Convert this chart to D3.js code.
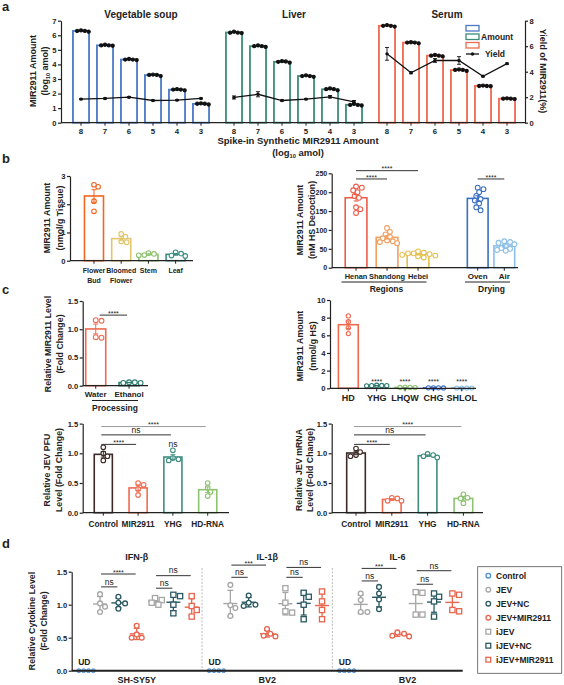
<!DOCTYPE html>
<html>
<head>
<meta charset="utf-8">
<script src="https://cdn.jsdelivr.net/npm/d3@7"></script>
<style>
  body { margin: 0; background: #fff; }
  text { font-family: "Liberation Sans", Arial, sans-serif; }
</style>
</head>
<body>
<svg id="fig" width="564" height="685"></svg>
<script>
// ---------- a: spike-in recovery ----------
const spikeLevels = ['8', '7', '6', '5', '4', '3'];
const matrices = ['Vegetable soup', 'Liver', 'Serum'];
const matrixColors = ['#4b79c6', '#3d8c7a', '#ef6a4f'];
const vegAmount = [[6.25, 6.33, 6.3, 6.3], [5.28, 5.35, 5.3, 5.3], [4.3, 4.37, 4.33, 4.33], [3.2, 3.3, 3.28, 3.28], [2.22, 2.3, 2.27, 2.27], [1.25, 1.32, 1.3, 1.3]];
const liverAmount = [[6.15, 6.25, 6.18, 6.18], [5.2, 5.3, 5.25, 5.25], [4.12, 4.22, 4.18, 4.2], [3.15, 3.25, 3.2, 3.2], [2.22, 2.35, 2.3, 2.3], [1.18, 1.3, 1.22, 1.22]];
const serumAmount = [[6.6, 6.7, 6.65, 6.65], [5.45, 5.52, 5.5, 5.5], [4.55, 4.65, 4.6, 4.6], [3.55, 3.65, 3.62, 3.62], [2.5, 2.55, 2.52, 2.52], [1.62, 1.67, 1.65, 1.65]];
const vegYield = [1.85, 1.9, 2.0, 1.74, 1.77, 1.9];
const vegYieldErr = [0.05, 0.05, 0.05, 0.04, 0.04, 0.04];
const liverYield = [1.98, 2.23, 1.74, 1.85, 2.03, 1.64];
const liverYieldErr = [0.12, 0.2, 0.05, 0.05, 0.1, 0.1];
const serumYield = [5.4, 3.92, 4.88, 4.88, 3.64, 4.63];
const serumYieldErr = [0.5, 0.08, 0.15, 0.3, 0.05, 0.05];

// ---------- b: tissues / regions / drying ----------
const tissues = ['Flower\nBud', 'Bloomed\nFlower', 'Stem', 'Leaf'];
const tissueColors = ['#f26522', '#e3c56b', '#8dc26f', '#3e8e80'];
const tissueValues = [[2.62, 2.69, 2.11, 1.75], [0.95, 0.85, 0.65, 0.68], [0.27, 0.24, 0.2, 0.19], [0.3, 0.18, 0.25, 0.17]];
const regions = ['Henan', 'Shandong', 'Hebei'];
const regionColors = ['#ec5d4a', '#f0a060', '#e3c04e'];
const regionValues = [[215, 212, 205, 200, 190, 185, 160, 155, 145], [105, 95, 88, 82, 78, 72, 70, 68, 65], [43, 40, 38, 36, 34, 32, 30, 27, 38]];
const dryings = ['Oven', 'Air'];
const dryingColors = ['#3a6fc4', '#8cbfe6'];
const dryingValues = [[212, 208, 200, 190, 182, 178, 170, 160, 152], [70, 68, 66, 62, 58, 52, 50, 47, 45]];

// ---------- c: processing / formulas / antiviral ----------
const processes = ['Water', 'Ethanol'];
const processColors = ['#ef6a4f', '#2e7d73'];
const processValues = [[1.15, 1.16, 0.85, 0.86], [0.05, 0.06, 0.05, 0.06]];
const formulas = ['HD', 'YHG', 'LHQW', 'CHG', 'SHLOL'];
const formulaColors = ['#ef6a4f', '#2e7d73', '#8dc26f', '#3a6fc4', '#8cbfe6'];
const formulaValues = [[8.2, 7.55, 6.85, 6.2], [0.35, 0.3, 0.28, 0.3, 0.32], [0.1, 0.08, 0.1, 0.09], [0.05, 0.04, 0.05, 0.05], [0.03, 0.02, 0.03, 0.03]];
const treatments = ['Control', 'MIR2911', 'YHG', 'HD-RNA'];
const treatColors = ['#3b2a26', '#ef6a4f', '#3e8e80', '#8dc26f'];
const pfuValues = [[1.1, 1.0, 0.95, 0.88], [0.5, 0.47, 0.4, 0.3], [1.05, 0.88, 0.9, 0.92], [0.5, 0.42, 0.35, 0.28]];
const mrnaValues = [[1.08, 1.02, 0.95, 0.97], [0.25, 0.24, 0.2, 0.2], [0.99, 0.97, 0.93, 0.95], [0.31, 0.25, 0.24, 0.16]];

// ---------- d: cytokines ----------
const cytoGroups = ['Control', 'JEV', 'JEV+NC', 'JEV+MIR2911', 'iJEV', 'iJEV+NC', 'iJEV+MIR2911'];
const cytoColors = ['#4a8fd8', '#a6a6a6', '#2b5a63', '#e8654e', '#a6a6a6', '#2b5a63', '#e8654e'];
const cytoShapes = ['circle', 'circle', 'circle', 'circle', 'square', 'square', 'square'];
const cytokines = ['IFN-β', 'IL-1β', 'IL-6'];
const cellLines = ['SH-SY5Y', 'BV2', 'BV2'];
const ifnbValues = [[0, 0, 0, 0], [1.16, 1.02, 0.97, 0.89], [1.12, 1.03, 1.02, 0.94], [0.68, 0.55, 0.5, 0.5], [1.1, 1.07, 1.03, 1.0], [1.15, 1.13, 1.0, 0.87], [1.13, 0.98, 0.92, 0.82]];
const il1bValues = [[0, 0, 0, 0], [1.3, 0.99, 0.95, 0.83], [1.14, 1.03, 1.0, 0.98], [0.63, 0.56, 0.53, 0.52], [1.25, 1.03, 0.9, 0.88], [1.18, 1.12, 1.0, 0.78], [1.2, 1.05, 0.92, 0.78]];
const il6Values = [[0, 0, 0, 0], [1.17, 1.07, 0.89, 0.89], [1.27, 1.17, 1.08, 0.93], [0.58, 0.56, 0.53, 0.52], [1.19, 1.18, 0.85, 0.85], [1.17, 1.12, 1.05, 0.82], [1.17, 1.15, 0.92, 0.9]];

const svg = d3.select('#fig');
const INK = '#222';

// ---------- helpers ----------
function rich(t, s, size) {
  let sub = false;
  s.split(/(_\{[^}]*\})/).forEach(part => {
    if (!part) return;
    if (part.startsWith('_{')) {
      t.append('tspan').attr('font-size', size * 0.6).attr('dy', size * 0.25).text(part.slice(2, -1));
      sub = true;
    } else {
      const ts = t.append('tspan').text(part);
      if (sub) { ts.attr('dy', -size * 0.25); sub = false; }
    }
  });
}

function txt(g, x, y, s, o = {}) {
  const size = o.size || 8;
  const t = g.append('text').attr('x', x).attr('y', y)
    .attr('text-anchor', o.anchor || 'middle')
    .attr('font-size', size).attr('font-weight', o.weight || 'bold')
    .attr('fill', o.fill || INK);
  rich(t, s, size);
  return t;
}

function yTitle(g, cx, cy, lines, size, gap, rot = -90) {
  lines.forEach((l, i) => {
    const t = g.append('text')
      .attr('transform', `translate(${cx + i * gap},${cy}) rotate(${rot})`)
      .attr('text-anchor', 'middle').attr('dy', '0.35em')
      .attr('font-size', size).attr('font-weight', 'bold').attr('fill', INK);
    rich(t, l, size);
  });
}

function yAxis(g, x, y, ticks, fmt, right, fs) {
  const ax = (right ? d3.axisRight(y) : d3.axisLeft(y))
    .tickValues(ticks).tickSize(3).tickSizeOuter(0).tickPadding(1.5)
    .tickFormat(fmt || d3.format('d'));
  const a = g.append('g').attr('transform', `translate(${x},0)`).call(ax);
  a.selectAll('path, line').attr('stroke', INK).attr('stroke-width', 1.2);
  a.selectAll('text').attr('font-size', fs || 7.6).attr('font-weight', 'bold').attr('fill', INK)
    .attr('font-family', '"Liberation Sans", Arial, sans-serif');
  return a;
}

function baseLine(g, x0, x1, y0, tickXs, sw) {
  g.append('line').attr('x1', x0).attr('x2', x1).attr('y1', y0).attr('y2', y0)
    .attr('stroke', INK).attr('stroke-width', sw || 1.2);
  (tickXs || []).forEach(tx => g.append('line').attr('x1', tx).attr('x2', tx)
    .attr('y1', y0).attr('y2', y0 + 3).attr('stroke', INK).attr('stroke-width', 1));
}

// simple beeswarm so replicate dots do not overlap
function swarm(vals, y, r, cx) {
  const placed = [];
  const out = new Array(vals.length);
  const order = vals.map((v, i) => i).sort((a, b) => vals[b] - vals[a]);
  order.forEach(i => {
    const py = y(vals[i]);
    for (let k = 0; k < 60; k++) {
      const off = k === 0 ? 0 : (k % 2 ? 1 : -1) * Math.ceil(k / 2) * r * 0.6;
      const px = cx + off;
      if (placed.every(p => Math.hypot(p[0] - px, p[1] - py) >= 2 * r * 0.98)) {
        placed.push([px, py]); out[i] = [px, py]; break;
      }
    }
  });
  return out;
}

function errBar(g, cx, y1, y2, w, col, sw) {
  g.append('line').attr('x1', cx).attr('x2', cx).attr('y1', y1).attr('y2', y2).attr('stroke', col).attr('stroke-width', sw || 1);
  [y1, y2].forEach(yy => g.append('line').attr('x1', cx - w).attr('x2', cx + w).attr('y1', yy).attr('y2', yy)
    .attr('stroke', col).attr('stroke-width', sw || 1));
}

function bars(g, x, y, cats, vals, colors, o = {}) {
  const r = o.r || 2.2;
  cats.forEach((c, i) => {
    const v = vals[i], col = colors[i];
    const m = d3.mean(v), se = d3.deviation(v) / Math.sqrt(v.length);
    const bx = x(c), bw = x.bandwidth(), cx = bx + bw / 2;
    g.append('rect').attr('x', bx).attr('y', y(m)).attr('width', bw).attr('height', y(0) - y(m))
      .attr('fill', 'white').attr('stroke', col).attr('stroke-width', o.sw || 1.6);
    const dotCol = o.dotColor || col;
    swarm(v, y, r, cx).forEach(p => g.append('circle').attr('cx', p[0]).attr('cy', p[1]).attr('r', r)
      .attr('fill', o.filled ? dotCol : 'white').attr('stroke', dotCol).attr('stroke-width', 1.1));
    if (!o.noErr) errBar(g, cx, y(m - se), y(m + se), 2.5, col, 1);
  });
}

function bracket(g, x1, x2, yy, label, stroke) {
  g.append('line').attr('x1', x1).attr('x2', x2).attr('y1', yy).attr('y2', yy)
    .attr('stroke', stroke || '#333').attr('stroke-width', 1);
  if (label === 'ns') txt(g, (x1 + x2) / 2, yy - 2.2, 'ns', { size: 8.5, weight: 'normal' });
  else txt(g, (x1 + x2) / 2, yy + 0.8, label, { size: 7, weight: 'normal' });
}

const ctr = (x, c) => x(c) + x.bandwidth() / 2;

// panel letters
[['a', 11], ['b', 163], ['c', 294], ['d', 548]].forEach(([l, yy]) => txt(svg, 2, yy, l, { size: 13, anchor: 'start' }));

// ================= panel a =================
{
  const g = svg.append('g');
  const yA = d3.scaleLinear().domain([0, 7]).range([122.7, 20.7]);
  const yA2 = d3.scaleLinear().domain([0, 8]).range([122.7, 20.7]);
  const xA = d3.scaleBand().domain(matrices).range([69, 519]).paddingInner(0.0588).paddingOuter(0);
  const xAi = d3.scaleBand().domain(spikeLevels).range([0, xA.bandwidth()]).paddingInner(0.33).paddingOuter(0.165);
  const amounts = [vegAmount, liverAmount, serumAmount];
  const yields = [vegYield, liverYield, serumYield];
  const yieldErrs = [vegYieldErr, liverYieldErr, serumYieldErr];

  const allCenters = [];
  matrices.forEach((m, k) => {
    const gx = g.append('g').attr('transform', `translate(${xA(m)},0)`);
    bars(gx, xAi, yA, spikeLevels, amounts[k], spikeLevels.map(() => matrixColors[k]),
      { r: 1.6, filled: true, dotColor: '#111', noErr: true, sw: 1.8 });
    spikeLevels.forEach(l => allCenters.push(xA(m) + ctr(xAi, l)));
    // yield line
    const pts = spikeLevels.map((l, i) => [xA(m) + ctr(xAi, l), yA2(yields[k][i])]);
    g.append('path').attr('d', d3.line()(pts)).attr('fill', 'none').attr('stroke', '#111').attr('stroke-width', 1.3);
    pts.forEach((p, i) => {
      errBar(g, p[0], yA2(yields[k][i] - yieldErrs[k][i]), yA2(yields[k][i] + yieldErrs[k][i]), 2, '#111', 0.9);
      g.append('circle').attr('cx', p[0]).attr('cy', p[1]).attr('r', 1.7).attr('fill', '#111');
    });
    txt(g, xA(m) + xA.bandwidth() / 2, 18, m, { size: 10 });
  });

  yAxis(g, 61, yA, d3.range(0, 8));
  yAxis(g, 525, yA2, [0, 2, 4, 6, 8], null, true);
  baseLine(g, 61, 525, 122.7, allCenters);
  matrices.forEach(m => spikeLevels.forEach(l => txt(g, xA(m) + ctr(xAi, l), 133.5, l, { size: 7.8 })));
  txt(g, 298, 143.5, 'Spike-in Synthetic MIR2911 Amount', { size: 9.5 });
  txt(g, 298, 155.5, '(log_{10} amol)', { size: 9.5 });
  yTitle(g, 33, 71, ['MIR2911 Amount', '(log_{10} amol)'], 9, 12);
  yTitle(g, 543, 71, ['Yield of MIR2911(%)'], 9, 0, 90);

  // legend
  matrixColors.forEach((c, i) => g.append('rect').attr('x', 466).attr('y', 25.5 + i * 8.5).attr('width', 13).attr('height', 5.5)
    .attr('fill', 'white').attr('stroke', c).attr('stroke-width', 1.3));
  txt(g, 481, 40, 'Amount', { size: 8.5, anchor: 'start' });
  g.append('line').attr('x1', 466).attr('x2', 479).attr('y1', 54).attr('y2', 54).attr('stroke', '#111').attr('stroke-width', 1.3);
  g.append('circle').attr('cx', 472.5).attr('cy', 54).attr('r', 1.7).attr('fill', '#111');
  txt(g, 485, 57, 'Yield', { size: 8.5, anchor: 'start' });
}

// ================= panel b (tissues) =================
{
  const g = svg.append('g');
  const y = d3.scaleLinear().domain([0, 3]).range([260.7, 176]);
  const x = d3.scaleBand().domain(tissues).range([76.3, 193.3]).padding(0.3);
  bars(g, x, y, tissues, tissueValues, tissueColors, { r: 2.3 });
  yAxis(g, 70, y, [0, 1, 2, 3]);
  baseLine(g, 70, 193, 260.7, tissues.map(c => ctr(x, c)));
  tissues.forEach(c => c.split('\n').forEach((l, i) => txt(g, ctr(x, c), 273 + i * 10, l, { size: 7 })));
  yTitle(g, 47, 218, ['MIR2911 Amount', '(nmol/g Tissue)'], 8.8, 12.5);
}

// ================= panel b (regions / drying) =================
{
  const g = svg.append('g');
  const y = d3.scaleLinear().domain([0, 250]).range([267.7, 173.3]);
  const xR = d3.scaleBand().domain(regions).range([335.9, 438.2]).padding(0.3);
  const xD = d3.scaleBand().domain(dryings).range([464.4, 517.6]).paddingInner(0.22).paddingOuter(0.11);
  bars(g, xR, y, regions, regionValues, regionColors, { r: 2.4 });
  bars(g, xD, y, dryings, dryingValues, dryingColors, { r: 2.4 });
  yAxis(g, 331.7, y, d3.range(0, 251, 50), null, false, 7);
  baseLine(g, 331.7, 518, 267.7, regions.map(c => ctr(xR, c)).concat(dryings.map(c => ctr(xD, c))));
  regions.forEach(c => txt(g, ctr(xR, c), 279, c, { size: 7.4 }));
  dryings.forEach(c => txt(g, ctr(xD, c), 279, c, { size: 8 }));
  baseLine(g, 341.5, 426.5, 282, null, 1);
  txt(g, 386.5, 292, 'Regions', { size: 8.5 });
  baseLine(g, 465, 510, 282, null, 1);
  txt(g, 491.5, 292, 'Drying', { size: 8.5 });
  bracket(g, ctr(xR, 'Henan'), ctr(xR, 'Shandong'), y(235), '****');
  bracket(g, ctr(xR, 'Henan'), ctr(xR, 'Hebei'), y(257), '****');
  bracket(g, ctr(xD, 'Oven'), ctr(xD, 'Air'), y(235), '****');
  yTitle(g, 300, 220, ['MIR2911 Amount', '(nM HS Decoction)'], 8.8, 11.5);
}

// ================= panel c (processing) =================
{
  const g = svg.append('g');
  const y = d3.scaleLinear().domain([0, 1.5]).range([385.7, 301]);
  const x = d3.scaleBand().domain(processes).range([72.4, 152.4]).padding(0.4);
  bars(g, x, y, processes, processValues, processColors, { r: 2.4 });
  yAxis(g, 82.7, y, [0, 0.5, 1, 1.5], d3.format('.1f'));
  baseLine(g, 82.7, 148, 385.7, processes.map(c => ctr(x, c)));
  processes.forEach(c => txt(g, ctr(x, c), 397, c, { size: 8 }));
  baseLine(g, 92, 138, 400.5, null, 1);
  txt(g, 115, 410.5, 'Processing', { size: 8.5 });
  bracket(g, ctr(x, 'Water') + 4, ctr(x, 'Ethanol') - 2, y(1.25), '****');
  yTitle(g, 48, 344, ['Relative MIR2911 Level', '(Fold Change)'], 8.8, 12);
}

// ================= panel c (formulas) =================
{
  const g = svg.append('g');
  const y = d3.scaleLinear().domain([0, 10]).range([388.3, 300]);
  const x = d3.scaleBand().domain(formulas).range([329.9, 480.2]).padding(0.3);
  bars(g, x, y, formulas, formulaValues, formulaColors, { r: 2.1 });
  yAxis(g, 330, y, d3.range(0, 11, 2));
  baseLine(g, 330, 476, 388.3, formulas.map(c => ctr(x, c)));
  formulas.forEach(c => txt(g, ctr(x, c), 400.5, c, { size: 9 }));
  formulas.slice(1).forEach(c => txt(g, ctr(x, c), y(0.45), '****', { size: 7, weight: 'normal' }));
  yTitle(g, 300, 346, ['MIR2911 Amount', '(nmol/g HS)'], 8.8, 12.5);
}

// ================= panel c (PFU / mRNA) =================
function antiviral(vals, axisX, range, xEnd, titleX, titleLines, nsOnYhg) {
  const g = svg.append('g');
  const y = d3.scaleLinear().domain([0, 1.5]).range([512.7, 423.6]);
  const x = d3.scaleBand().domain(treatments).range(range).paddingInner(0.48).paddingOuter(0.24);
  bars(g, x, y, treatments, vals, treatColors, { r: 2.3 });
  yAxis(g, axisX, y, [0, 0.5, 1, 1.5], d3.format('.1f'));
  baseLine(g, axisX, xEnd, 512.7, treatments.map(c => ctr(x, c)));
  treatments.forEach(c => txt(g, ctr(x, c), 527, c, { size: 8.3 }));
  const c0 = ctr(x, 'Control') - 2;
  bracket(g, c0, ctr(x, 'MIR2911') - 2, y(1.15), '****');
  bracket(g, c0, ctr(x, 'YHG') - 2, y(1.31), 'ns');
  bracket(g, c0, ctr(x, 'HD-RNA') - 2, y(1.45), '****', '#999');
  if (nsOnYhg) txt(g, ctr(x, 'YHG'), y(1.1), 'ns', { size: 8.5, weight: 'normal' });
  yTitle(g, titleX, 470, titleLines, 8.8, 11.5);
}
antiviral(pfuValues, 82.7, [85.9, 225.1], 229, 47, ['Relative JEV PFU', 'Level (Fold Change)'], true);
antiviral(mrnaValues, 331.7, [338.1, 481.3], 483, 298.5, ['Relative JEV mRNA', 'Level (Fold Change)'], false);

// ================= panel d =================
{
  const g = svg.append('g');
  const y = d3.scaleLinear().domain([0, 1.5]).range([670.7, 571.7]);
  const xS = d3.scaleBand().domain(cytokines).range([71.7, 462.7]);
  const xG = d3.scalePoint().domain(cytoGroups).range([10, 120]);
  const data = [ifnbValues, il1bValues, il6Values];
  const px = (k, grp) => xS(cytokines[k]) + xG(grp);

  cytokines.slice(1).forEach(c => g.append('line').attr('x1', xS(c)).attr('x2', xS(c)).attr('y1', 568).attr('y2', 670)
    .attr('stroke', '#aaa').attr('stroke-width', 0.8).attr('stroke-dasharray', '2,1.5'));

  cytokines.forEach((ck, k) => {
    cytoGroups.forEach((grp, j) => {
      const v = data[k][j], col = cytoColors[j], cx = px(k, grp);
      if (j === 0) {
        swarm(v, y, 2, cx + 2).forEach(p => g.append('circle').attr('cx', p[0]).attr('cy', p[1]).attr('r', 2)
          .attr('fill', '#9cc6f0').attr('stroke', col).attr('stroke-width', 0.9));
        txt(g, xS(ck) + 6.5, 665, 'UD', { size: 8.5, anchor: 'start' });
        return;
      }
      const m = d3.mean(v), sd = d3.deviation(v);
      errBar(g, cx, y(m - sd), y(m + sd), 3, col, 1.3);
      g.append('line').attr('x1', cx - 7).attr('x2', cx + 7).attr('y1', y(m)).attr('y2', y(m)).attr('stroke', col).attr('stroke-width', 1.4);
      swarm(v, y, 2.8, cx).forEach(p => {
        if (cytoShapes[j] === 'square') {
          g.append('rect').attr('x', p[0] - 2.6).attr('y', p[1] - 2.6).attr('width', 5.2).attr('height', 5.2)
            .attr('fill', 'white').attr('stroke', col).attr('stroke-width', 1.3);
        } else {
          g.append('circle').attr('cx', p[0]).attr('cy', p[1]).attr('r', 2.4)
            .attr('fill', 'white').attr('stroke', col).attr('stroke-width', 1.3);
        }
      });
    });
    const mid = xS(ck) + xS.bandwidth() / 2;
    txt(g, mid, 560, ck, { size: 9 });
    txt(g, mid + (k === 2 ? 10 : 0), 682.5, cellLines[k], { size: 9 });
  });

  // significance marks: [section, from, to, value level, label]
  const sig = [
    [0, 'JEV', 'JEV+MIR2911', 1.465, '****'], [0, 'JEV', 'JEV+NC', 1.27, 'ns'],
    [0, 'iJEV', 'iJEV+MIR2911', 1.44, 'ns'], [0, 'iJEV', 'iJEV+NC', 1.25, 'ns'],
    [1, 'JEV', 'JEV+MIR2911', 1.6, '***'], [1, 'JEV', 'JEV+NC', 1.415, 'ns'],
    [1, 'iJEV', 'iJEV+MIR2911', 1.565, 'ns'], [1, 'iJEV', 'iJEV+NC', 1.415, 'ns'],
    [2, 'JEV', 'JEV+MIR2911', 1.55, '***'], [2, 'JEV', 'JEV+NC', 1.36, 'ns'],
    [2, 'iJEV', 'iJEV+MIR2911', 1.515, 'ns'], [2, 'iJEV', 'iJEV+NC', 1.31, 'ns']
  ];
  sig.forEach(([k, a, b, lv, lab]) => bracket(g, px(k, a) + 1, px(k, b) - 1, y(lv), lab));

  yAxis(g, 71.7, y, [0, 0.5, 1, 1.5], d3.format('.1f'));
  baseLine(g, 71.7, 462.7, 670.7, null, 2);
  yTitle(g, 31.5, 621, ['Relative Cytokine Level', '(Fold Change)'], 8.8, 12);

  // legend
  g.append('rect').attr('x', 477.7).attr('y', 566.7).attr('width', 84).attr('height', 106.6)
    .attr('fill', 'white').attr('stroke', '#555').attr('stroke-width', 0.8);
  cytoGroups.forEach((grp, j) => {
    const ly = 575.7 + j * 14;
    if (cytoShapes[j] === 'square') {
      g.append('rect').attr('x', 488.3 - 2.4).attr('y', ly - 2.4).attr('width', 4.8).attr('height', 4.8)
        .attr('fill', 'white').attr('stroke', cytoColors[j]).attr('stroke-width', 1.3);
    } else {
      g.append('circle').attr('cx', 488.3).attr('cy', ly).attr('r', 2.3)
        .attr('fill', 'white').attr('stroke', cytoColors[j]).attr('stroke-width', 1.3);
    }
    txt(g, 496, ly + 3, grp, { size: 8.5, anchor: 'start' });
  });
}
</script>
</body>
</html>
